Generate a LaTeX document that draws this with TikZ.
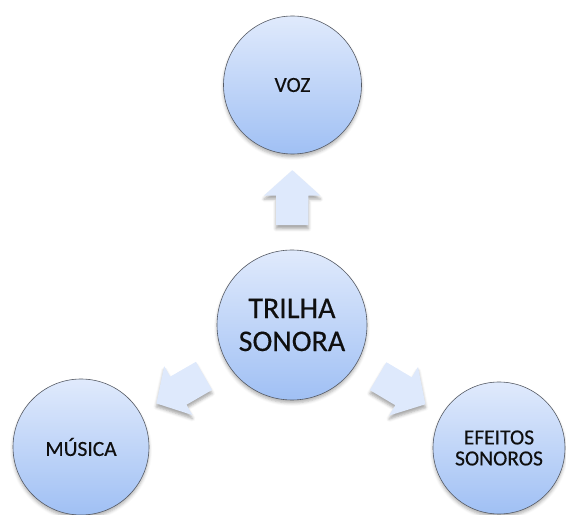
\documentclass[tikz,border=0pt]{standalone}
\usepackage{fontspec}
\setmainfont{Carlito}[FakeBold=0.35]
\usetikzlibrary{shapes.arrows,shadows.blur}
\definecolor{ctop}{RGB}{224,234,252}
\definecolor{cbot}{RGB}{160,192,244}
\definecolor{afill}{RGB}{222,233,252}
\definecolor{rim}{RGB}{85,90,100}
\definecolor{txt}{RGB}{15,15,15}
\begin{document}
\begin{tikzpicture}[x=1pt,y=1pt,
  bubble/.style={circle, draw=rim, line width=0.6pt, top color=ctop, bottom color=cbot,
    inner sep=0pt, align=center, text=txt,
    blur shadow={shadow xshift=0pt, shadow yshift=-3pt, shadow opacity=30, shadow blur radius=3pt}},
  small/.style={font=\fontsize{21.5}{21}\selectfont},
  big/.style={font=\fontsize{30}{33}\selectfont},
  blockarrow/.style={single arrow, draw=none, fill=afill, minimum height=55pt,
    inner xsep=0pt, inner ysep=16pt, single arrow head extend=12pt,
    single arrow tip angle=96, sloped, allow upside down,
    blur shadow={shadow xshift=0pt, shadow yshift=-3.5pt, shadow opacity=35, shadow blur radius=3pt}}
]
\useasboundingbox (0,0) rectangle (566,515);
\node[bubble, big, minimum size=150pt] (trilha) at (292,190) {TRILHA\\SONORA};
\node[bubble, small, minimum size=138pt] (voz) at (292.5,430) {VOZ};
\node[bubble, small, minimum size=136pt] (musica) at (81,68) {MÚSICA};
\node[bubble, small, minimum size=132pt] (efeitos) at (499,67) {EFEITOS\\SONOROS};
\path (trilha.center) -- node[blockarrow, pos=0.5] (a1) {} (voz.center);
\path (trilha.center) -- node[blockarrow, pos=0.5] (a2) {} (musica.center);
\path (trilha.center) -- node[blockarrow, pos=0.5] (a3) {} (efeitos.center);
\end{tikzpicture}
\end{document}
